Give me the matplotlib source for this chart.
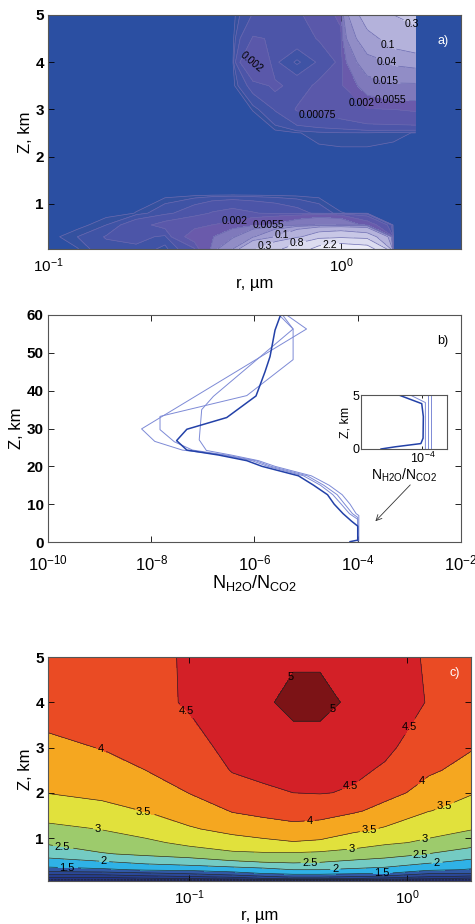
import numpy as np
import matplotlib
matplotlib.use("Agg")
import matplotlib.pyplot as plt
from matplotlib.ticker import NullLocator, FixedLocator

plt.rcParams['font.family'] = ['Liberation Sans', 'DejaVu Sans']
plt.rcParams['mathtext.fontset'] = 'custom'
plt.rcParams['mathtext.rm'] = 'Liberation Sans'
plt.rcParams['mathtext.it'] = 'Liberation Sans:italic'

# ---------------- panel a) : particle concentration, r vs Z
r_a = [0.1, 0.126, 0.158, 0.2, 0.251, 0.316, 0.363, 0.427, 0.501, 0.596, 0.708, 0.841, 1.0, 1.23, 1.51, 1.80]
z_a = [0.04, 0.3, 0.55, 0.8, 1.2, 2.0, 2.5, 3.0, 3.5, 4.0, 4.5, 5.0]
conc_a = [
    [0, 3e-5, 2e-4, 2e-4, 5e-5, 6e-4, 6e-3, 0.04, 0.25, 0.6, 1.3, 2.8, 3.5, 3.0, 0, 0],
    [0, 1e-4, 3e-4, 4e-4, 2e-4, 3e-3, 5e-3, 0.012, 0.035, 0.1, 0.25, 0.5, 0.6, 0.45, 0, 0],
    [0, 0, 1e-4, 5e-4, 1e-3, 1.5e-3, 2e-3, 2.5e-3, 4e-3, 6e-3, 1e-2, 1.5e-2, 1.2e-2, 3e-3, 0, 0],
    [0, 0, 0, 4e-5, 2e-4, 5e-4, 8e-4, 1e-3, 8e-4, 6e-4, 4e-4, 2e-4, 4e-5, 2e-5, 0, 0],
    [0, 0, 0, 0, 0, 0, 0, 0, 0, 0, 0, 0, 0, 0, 0, 0],
    [0, 0, 0, 0, 0, 0, 0, 0, 0, 0, 0, 0, 0, 0, 0, 0],
    [0, 0, 0, 0, 0, 0, 0, 0, 0, 0, 3e-5, 7e-5, 9e-5, 9e-5, 6e-5, 3e-5],
    [0, 0, 0, 0, 0, 0, 0, 0, 4e-5, 3e-4, 8e-4, 1.0e-3, 1.2e-3, 1.8e-3, 2.0e-3, 2.2e-3],
    [0, 0, 0, 0, 0, 0, 0, 0, 4e-4, 9e-4, 4.5e-4, 9e-4, 1.6e-3, 8e-3, 1.1e-2, 1.1e-2],
    [0, 0, 0, 0, 0, 0, 0, 0, 2.2e-3, 3.2e-4, 6e-5, 3.2e-4, 9e-4, 2.5e-2, 4.5e-2, 5e-2],
    [0, 0, 0, 0, 0, 0, 0, 0, 8e-4, 7e-4, 4.5e-4, 8e-4, 1.5e-3, 7e-2, 0.14, 0.18],
    [0, 0, 0, 0, 0, 0, 0, 0, 3e-4, 5e-4, 7e-4, 9e-4, 2.5e-3, 0.15, 0.3, 0.4],
]
lev_a = [3.7e-5, 1e-4, 2.8e-4, 7.5e-4, 2e-3, 5.5e-3, 1.5e-2, 4e-2, 0.1, 0.3, 0.8, 2.2, 6.0]
lab_a = [7.5e-4, 2e-3, 5.5e-3, 1.5e-2, 4e-2, 0.1, 0.3, 0.8, 2.2]
col_a = ['#34519f', '#3f53a5', '#4c55a8', '#5a58aa', '#6a5aab', '#7f79bb', '#918dc6',
         '#a29fd1', '#b4b2db', '#c8c7e6', '#dcdcf0', '#ececf8']
pos_a = [(0.477, 4.02), (1.76, 4.87), (1.45, 4.37), (1.43, 3.98), (1.43, 3.69), (1.5, 3.38),
         (0.85, 3.13), (1.19, 3.18), (0.434, 0.6), (0.564, 0.6), (0.63, 0.31), (0.55, 0.1),
         (0.71, 0.12), (0.92, 0.08)]

# ---------------- panel b) : N_H2O/N_CO2 profiles
z_thick = [60, 56, 49, 45, 38.6, 32.9, 29.8, 26.8, 24.3, 23.0, 21.5, 20.0, 17.5, 15.0, 12.5, 10.0, 7.5, 5.5, 4.2, 0.5, 0.1]
q_thick = [3.2e-6, 2.5e-6, 2.0e-6, 1.6e-6, 1.07e-6, 2.9e-7, 4.9e-8, 3.1e-8, 4.9e-8, 2.0e-7, 7.1e-7, 1.4e-6,
           7.1e-6, 1.4e-5, 2.6e-5, 3.5e-5, 5.2e-5, 7.6e-5, 1.0e-4, 1.0e-4, 7.1e-5]
z_p1 = [60, 56.3, 29.9, 26.6, 24.3, 23, 21.5, 20, 17.5, 15, 12.5, 10, 7.5, 6.0, 0.3]
q_p1 = [4.2e-6, 1.02e-5, 6.5e-9, 1.17e-8, 4.0e-8, 2.5e-7, 8.9e-7, 1.8e-6, 8.9e-6, 1.9e-5, 3.3e-5, 4.8e-5,
        6.9e-5, 1.0e-4, 1.0e-4]
z_p2 = [60, 56.3, 48.2, 38.7, 33.2, 29.7, 26.5, 24.3, 23, 21.5, 20, 17.5, 15, 12.5, 10, 7.5, 6.5, 0.3]
q_p2 = [3.5e-6, 5.6e-6, 5.6e-6, 7.1e-7, 1.48e-8, 1.48e-8, 2.8e-8, 6.3e-8, 2.8e-7, 1.05e-6, 2.1e-6, 1.05e-5,
        2.2e-5, 4.0e-5, 5.6e-5, 7.9e-5, 1.0e-4, 1.0e-4]
z_p3 = [60, 56.3, 38.5, 35, 27, 24.2, 23, 21.5, 20, 17.5, 15, 12.5, 10, 7.5, 7.0, 0.3]
q_p3 = [3.0e-6, 5.6e-6, 1.6e-7, 9.5e-8, 8.5e-8, 1.17e-7, 3.5e-7, 1.2e-6, 2.5e-6, 1.26e-5, 2.8e-5, 5.0e-5,
        7.1e-5, 9.3e-5, 1.05e-4, 1.05e-4]

# inset, lowest 5 km
zi_thick = [5, 4.2, 3.0, 1.0, 0.5, 0.2, 0.0]
qi_thick = [1.7e-5, 9.5e-5, 1.07e-4, 1.05e-4, 8.9e-5, 1.3e-5, 4.5e-6]
zi_p1 = [5, 4.3, 0]
qi_p1 = [4.0e-5, 1.25e-4, 1.25e-4]
zi_p2 = [5, 0]
qi_p2 = [1.55e-4, 1.55e-4]
zi_p3 = [5, 0]
qi_p3 = [1.9e-4, 1.9e-4]

# ---------------- panel c)
r_c = [0.0224, 0.0398, 0.0631, 0.1, 0.158, 0.219, 0.301, 0.399, 0.567, 0.794, 1.26, 2.0]
z_c = [0.05, 0.1, 0.15, 0.22, 0.3, 0.45, 0.65, 0.9, 1.2, 1.6, 2.0, 2.5, 3.0, 4.0, 5.0]
val_c = [
    [-1.0, -1.0, -1.1, -1.2, -1.3, -1.4, -1.4, -1.4, -1.37, -1.3, -1.1, -1.0],
    [-0.25, -0.25, -0.15, -0.05, 0.1, 0.4, 0.5, 0.5, 0.43, 0.25, 0.0, -0.2],
    [0.17, 0.2, 0.38, 0.5, 0.7, 0.95, 1.2, 1.2, 1.03, 0.9, 0.55, 0.4],
    [0.7, 0.75, 0.92, 1.08, 1.33, 1.52, 1.62, 1.62, 1.57, 1.5, 1.05, 1.0],
    [1.32, 1.42, 1.57, 1.62, 1.75, 1.85, 2.0, 2.0, 1.92, 1.85, 1.59, 1.45],
    [1.78, 1.9, 2.07, 2.2, 2.36, 2.46, 2.5, 2.47, 2.36, 2.26, 2.02, 1.8],
    [2.18, 2.47, 2.6, 2.72, 2.92, 2.94, 2.94, 2.9, 2.8, 2.7, 2.49, 2.27],
    [2.57, 2.73, 2.91, 3.13, 3.26, 3.38, 3.47, 3.42, 3.24, 3.07, 2.92, 2.67],
    [2.89, 3.02, 3.19, 3.45, 3.67, 3.77, 3.85, 3.8, 3.6, 3.45, 3.17, 3.02],
    [3.22, 3.37, 3.52, 3.74, 4.03, 4.13, 4.22, 4.2, 4.06, 3.84, 3.51, 3.32],
    [3.51, 3.6, 3.73, 4.01, 4.27, 4.42, 4.5, 4.52, 4.46, 4.15, 3.8, 3.52],
    [3.71, 3.81, 4.0, 4.17, 4.53, 4.61, 4.63, 4.62, 4.57, 4.45, 4.07, 3.8],
    [3.9, 4.02, 4.15, 4.34, 4.65, 4.74, 4.72, 4.72, 4.68, 4.58, 4.22, 4.03],
    [4.2, 4.3, 4.38, 4.55, 4.85, 4.9, 5.2, 5.2, 4.85, 4.75, 4.47, 4.25],
    [4.38, 4.42, 4.4, 4.55, 4.8, 4.8, 4.9, 4.9, 4.71, 4.6, 4.47, 4.3],
]
lev_c = [-1.5, -1.0, -0.5, 0, 0.5, 1.0, 1.5, 2.0, 2.5, 3.0, 3.5, 4.0, 4.5, 5.0, 6.0]
lab_c = [1.5, 2.0, 2.5, 3.0, 3.5, 4.0, 4.5, 5.0]
col_c = ['#1b2270', '#1e2a7a', '#223384', '#263d8e', '#2b4898', '#3159a6', '#2fb2e6', '#74cbc3',
         '#9dcb6c', '#e1e13c', '#f5a720', '#ea4b24', '#d32027', '#7c1316']
pos_c = [(0.0391, 2.92), (0.0942, 3.74), (0.306, 4.51), (0.456, 3.85), (1.03, 3.46), (0.557, 2.11),
         (1.21, 2.15), (0.0617, 1.56), (0.359, 1.28), (1.52, 1.58), (0.0377, 1.11), (0.676, 1.08),
         (1.21, 0.97), (0.0261, 0.79), (0.557, 0.72), (1.15, 0.67), (0.0405, 0.51), (0.359, 0.47),
         (0.468, 0.35), (1.37, 0.45), (0.0275, 0.32), (0.766, 0.27)]


def style_axes(ax):
    ax.tick_params(direction='in', top=True, right=True, length=4, width=0.6, labelsize=11, pad=3)
    ax.tick_params(axis='x', pad=5)
    ax.xaxis.set_minor_locator(NullLocator())
    ax.yaxis.set_minor_locator(NullLocator())
    for sp in ax.spines.values():
        sp.set_color('#555555')
        sp.set_linewidth(0.8)
    for t in ax.get_yticklabels():
        t.set_fontweight('bold')


def contour_map(ax, r, z, v, levels, labels, colors, line_color, lw, positions, fsize):
    # filled bands, plain lines for unlabeled levels, labeled lines on their own
    ax.set_xscale('log')
    ax.contourf(r, z, v, levels=levels, colors=colors)
    plain = [l for l in levels if l not in labels]
    ax.contour(r, z, v, levels=plain, colors=line_color, linewidths=lw)
    cs = ax.contour(r, z, v, levels=labels, colors=line_color, linewidths=lw)
    return ax.clabel(cs, fmt=lambda x: '%g' % x, manual=positions, fontsize=fsize, colors='k',
                     inline_spacing=2)


fig = plt.figure(figsize=(4.75, 9.24), dpi=100)

# a)
ax1 = fig.add_axes([0.101, 0.7305, 0.8695, 0.2533])
ax1.set_facecolor('#2b4fa2')
ax1.set_xlim(0.1, 2.57)
ax1.set_ylim(0.04, 5)
txt_a = contour_map(ax1, r_a, z_a, conc_a, lev_a, lab_a, col_a, '#6a6ab0', 0.5, pos_a, 7.5)
for i, t in enumerate(txt_a):
    t.set_rotation(-40 if i == 0 else 0)
ax1.set_xlim(0.1, 2.57)
ax1.set_ylim(0.04, 5)
ax1.set_yticks([1, 2, 3, 4, 5])
ax1.set_xticks([0.1, 1])
style_axes(ax1)
ax1.set_xlabel('r, µm', fontsize=12, labelpad=1)
ax1.set_ylabel('Z, km', fontsize=12, labelpad=2)
ax1.text(0.956, 0.889, 'a)', transform=ax1.transAxes, color='white', fontsize=9, ha='center', va='center')

# b)
ax2 = fig.add_axes([0.101, 0.4134, 0.8695, 0.2457])
for q, z in [(q_p1, z_p1), (q_p2, z_p2), (q_p3, z_p3)]:
    ax2.plot(q, z, color='#7d8ad6', lw=0.7)
ax2.plot(q_thick, z_thick, color='#2341a8', lw=1.1)
ax2.set_xscale('log')
ax2.set_xlim(1e-10, 1e-2)
ax2.set_ylim(0, 60)
ax2.set_xticks([1e-10, 1e-8, 1e-6, 1e-4, 1e-2])
ax2.set_yticks([0, 10, 20, 30, 40, 50, 60])
style_axes(ax2)
ax2.tick_params(axis='x', labelsize=12, pad=8)
ax2.set_xlabel('N$_{\\mathrm{H2O}}$/N$_{\\mathrm{CO2}}$', fontsize=13, labelpad=0)
ax2.set_ylabel('Z, km', fontsize=12, labelpad=2)
ax2.text(0.956, 0.885, 'b)', transform=ax2.transAxes, color='k', fontsize=9, ha='center', va='center')
ax2.annotate('', xy=(2.2e-4, 5.5), xytext=(1.04e-3, 15.1),
             arrowprops=dict(arrowstyle='->', lw=0.6, color='#333333', shrinkA=0, shrinkB=0))

ax3 = fig.add_axes([0.76, 0.5141, 0.181, 0.0584])
for q, z in [(qi_p1, zi_p1), (qi_p2, zi_p2), (qi_p3, zi_p3)]:
    ax3.plot(q, z, color='#7d8ad6', lw=0.7)
ax3.plot(qi_thick, zi_thick, color='#2341a8', lw=1.1)
ax3.set_xscale('log')
ax3.set_xlim(1e-6, 6.3e-4)
ax3.set_ylim(0, 5)
ax3.set_yticks([0, 5])
ax3.xaxis.set_major_locator(FixedLocator([1e-4]))
style_axes(ax3)
ax3.tick_params(labelsize=9, length=2, pad=1)
for t in ax3.get_yticklabels():
    t.set_fontweight('normal')
ax3.set_xlabel('N$_{\\mathrm{H2O}}$/N$_{\\mathrm{CO2}}$', fontsize=10, labelpad=1)
ax3.set_ylabel('Z, km', fontsize=9, labelpad=1)

# c)
ax4 = fig.add_axes([0.101, 0.0465, 0.8905, 0.2424])
ax4.set_xlim(0.0225, 1.97)
ax4.set_ylim(0.05, 5)
txt_c = contour_map(ax4, r_c, z_c, val_c, lev_c, lab_c, col_c, '#222222', 0.45, pos_c, 8)
for t in txt_c:
    t.set_rotation(0)
ax4.set_xlim(0.0225, 1.97)
ax4.set_ylim(0.05, 5)
ax4.set_yticks([1, 2, 3, 4, 5])
ax4.set_xticks([0.1, 1])
style_axes(ax4)
ax4.set_xlabel('r, µm', fontsize=12, labelpad=1)
ax4.set_ylabel('Z, km', fontsize=12, labelpad=2)
ax4.text(0.962, 0.929, 'c)', transform=ax4.transAxes, color='white', fontsize=9, ha='center', va='center')

fig.savefig('out.png', dpi=100)
